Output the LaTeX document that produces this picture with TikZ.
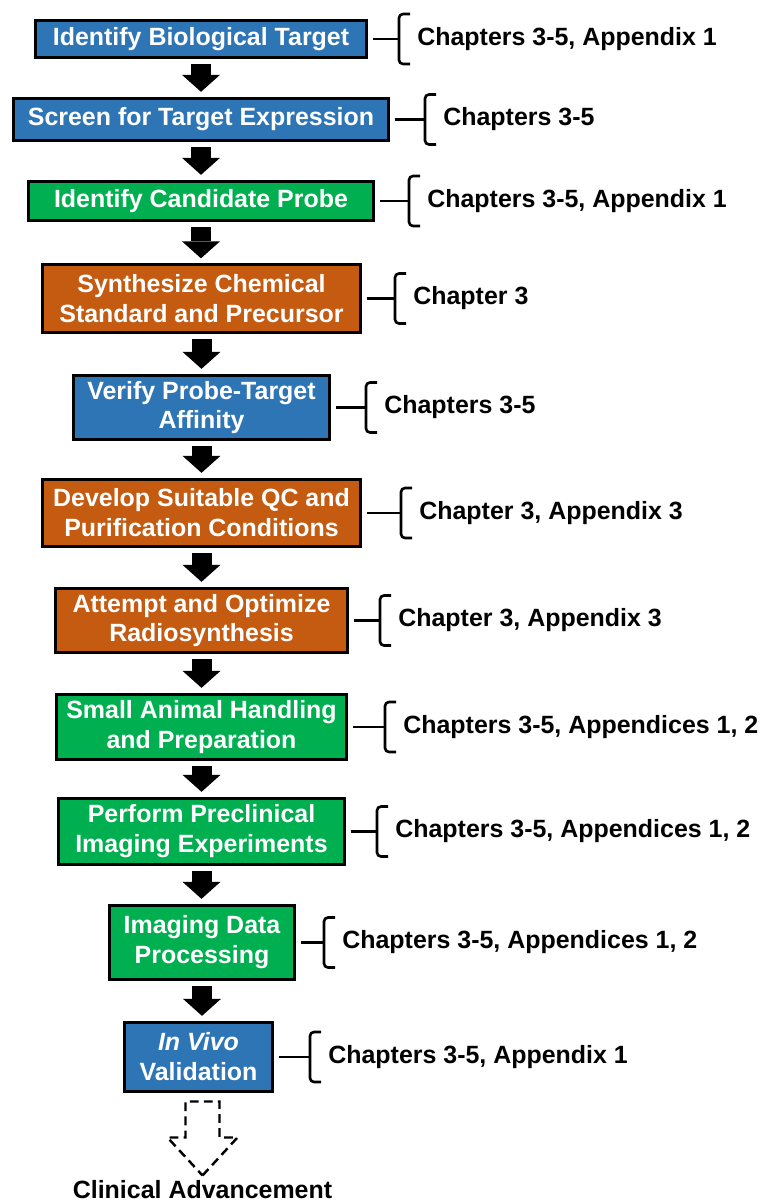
\documentclass[tikz,border=0pt]{standalone}
\usepackage{fontspec}
\setmainfont{Liberation Sans}
\usetikzlibrary{arrows.meta,calc}
\definecolor{stepBlue}{HTML}{2E75B6}
\definecolor{stepGreen}{HTML}{00B050}
\definecolor{stepOrange}{HTML}{C55A11}

\tikzset{
  stepbox/.style={draw=black,line width=1.6pt,text=white,align=center,inner sep=2pt,
    font=\fontsize{14.2}{17}\selectfont\bfseries},
  chapnote/.style={anchor=west,inner sep=0pt,font=\fontsize{14.2}{17}\selectfont\bfseries},
  flowarrow/.style={line width=0.4cm,-{Triangle[width=0.76cm,length=0.34cm,line width=0pt]},
    shorten <=0.1cm,shorten >=0.1cm},
  bracket/.style={line width=1.5pt,rounded corners=0.08cm},
  hollowarrow/.style={line width=1.4pt,dash pattern=on 5pt off 3pt,line join=miter}
}

\begin{document}
\begin{tikzpicture}
\useasboundingbox (0,0) rectangle (15.3,-24.04);
% steps
\node[stepbox,fill=stepBlue,minimum width=6.61cm,minimum height=0.75cm] (s1) at (4.02,-0.78) {Identify Biological Target};
\node[stepbox,fill=stepBlue,minimum width=7.49cm,minimum height=0.85cm] (s2) at (4.02,-2.39) {Screen for Target Expression};
\node[stepbox,fill=stepGreen,minimum width=6.91cm,minimum height=0.79cm] (s3) at (4.02,-4.02) {Identify Candidate Probe};
\node[stepbox,fill=stepOrange,minimum width=6.35cm,minimum height=1.35cm] (s4) at (4.03,-5.97) {Synthesize Chemical\\Standard and Precursor};
\node[stepbox,fill=stepBlue,minimum width=5.13cm,minimum height=1.29cm] (s5) at (4.03,-8.15) {Verify Probe-Target\\Affinity};
\node[stepbox,fill=stepOrange,minimum width=6.35cm,minimum height=1.35cm] (s6) at (4.03,-10.26) {Develop Suitable QC and\\Purification Conditions};
\node[stepbox,fill=stepOrange,minimum width=5.83cm,minimum height=1.29cm] (s7) at (4.03,-12.41) {Attempt and Optimize\\Radiosynthesis};
\node[stepbox,fill=stepGreen,minimum width=5.81cm,minimum height=1.31cm] (s8) at (4.03,-14.54) {Small Animal Handling\\and Preparation};
\node[stepbox,fill=stepGreen,minimum width=5.71cm,minimum height=1.33cm] (s9) at (4.03,-16.63) {Perform Preclinical\\Imaging Experiments};
\node[stepbox,fill=stepGreen,minimum width=3.71cm,minimum height=1.49cm] (s10) at (4.04,-18.85) {Imaging Data\\Processing};
\node[stepbox,fill=stepBlue,minimum width=2.97cm,minimum height=1.39cm] (s11) at (3.97,-21.14) {\textit{In Vivo}\\Validation};
% chapters
\node[chapnote] (n1) at (8.34,-0.78) {Chapters 3-5, Appendix 1};
\node[chapnote] (n2) at (8.86,-2.39) {Chapters 3-5};
\node[chapnote] (n3) at (8.54,-4.02) {Chapters 3-5, Appendix 1};
\node[chapnote] (n4) at (8.26,-5.97) {Chapter 3};
\node[chapnote] (n5) at (7.68,-8.15) {Chapters 3-5};
\node[chapnote] (n6) at (8.38,-10.26) {Chapter 3, Appendix 3};
\node[chapnote] (n7) at (7.96,-12.41) {Chapter 3, Appendix 3};
\node[chapnote] (n8) at (8.06,-14.54) {Chapters 3-5, Appendices 1, 2};
\node[chapnote] (n9) at (7.90,-16.63) {Chapters 3-5, Appendices 1, 2};
\node[chapnote] (n10) at (6.84,-18.85) {Chapters 3-5, Appendices 1, 2};
\node[chapnote] (n11) at (6.56,-21.14) {Chapters 3-5, Appendix 1};
\node[chapnote,anchor=center] (clin) at (4.05,-23.8) {Clinical Advancement};
% arrows
\foreach \i [count=\j from 2] in {1,...,10}
  \draw[flowarrow] (s\i.south) -- (s\i.south |- s\j.north);
% brackets
\foreach \i in {1,...,11}{
  \draw[bracket] ($(n\i.west)+(-0.14,0.5)$) -| ($(n\i.west)+(-0.36,0)$) |- ($(n\i.west)+(-0.14,-0.5)$);
  \draw[line width=1.5pt] ($(s\i.east)+(0.1,0)$) -- ($(n\i.west)+(-0.36,0)$);
}
% outlook
\draw[hollowarrow] ($(clin.north)+(0,0.1)$) -- ++(0.70,0.76) -- ++(-0.36,0) -- ++(0,0.72)
  -- ++(-0.68,0) -- ++(0,-0.72) -- ++(-0.36,0) -- cycle;
\end{tikzpicture}
\end{document}
